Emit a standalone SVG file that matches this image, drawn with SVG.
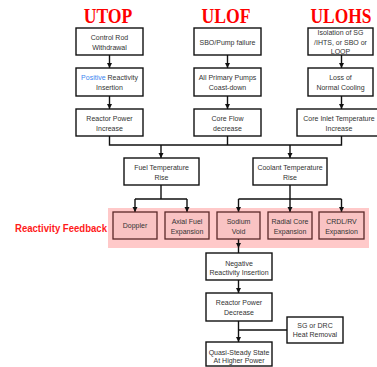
<svg xmlns="http://www.w3.org/2000/svg" width="377" height="367" viewBox="0 0 377 367">
<defs>
<style>
.title{font-family:"Liberation Serif","Times New Roman",serif;font-weight:bold;font-size:21px;fill:#ff0000;text-anchor:middle}
.box{fill:#ffffff;stroke:#111111;stroke-width:1.4}
.fb{fill:#f9c3c3;stroke:#5a2828;stroke-width:1.3}
.t{font-family:"Liberation Sans",Arial,sans-serif;font-size:7px;fill:#333333;text-anchor:middle}
.ln{fill:none;stroke:#111111;stroke-width:1.4}
</style>
<marker id="a" markerUnits="userSpaceOnUse" markerWidth="5" markerHeight="6" refX="5" refY="2.5" orient="auto" viewBox="0 0 5 5">
<path d="M0,0 L5,2.5 L0,5 Z" fill="#111111"/>
</marker>
</defs>

<g id="titles">
<text class="title" transform="translate(108 23) scale(0.84 1)">UTOP</text>
<text class="title" transform="translate(226 23) scale(0.84 1)">ULOF</text>
<text class="title" transform="translate(341 23) scale(0.83 1)">ULOHS</text>
</g>

<rect id="feedback-band" x="108" y="208" width="261" height="40" fill="#ffc9c9"/>
<text id="feedback-label" x="15" y="232" font-family="Liberation Sans,Arial,sans-serif" font-weight="bold" font-size="10.5" fill="#ff1a1a" textLength="92" lengthAdjust="spacingAndGlyphs">Reactivity Feedback</text>

<g id="connectors">
<line class="ln" x1="109.5" y1="55" x2="109.5" y2="68" marker-end="url(#a)"/>
<line class="ln" x1="109.5" y1="96" x2="109.5" y2="109" marker-end="url(#a)"/>
<line class="ln" x1="227.5" y1="55" x2="227.5" y2="68" marker-end="url(#a)"/>
<line class="ln" x1="227.5" y1="96" x2="227.5" y2="109" marker-end="url(#a)"/>
<line class="ln" x1="341.5" y1="55" x2="341.5" y2="68" marker-end="url(#a)"/>
<line class="ln" x1="341.5" y1="96" x2="341.5" y2="109" marker-end="url(#a)"/>
<path class="ln" d="M109.5,136 V145 H341.5 V136 M227.5,136 V145"/>
<line class="ln" x1="161" y1="145" x2="161" y2="158" marker-end="url(#a)"/>
<line class="ln" x1="290" y1="145" x2="290" y2="158" marker-end="url(#a)"/>
<path class="ln" d="M161,185 V199 M135,199 H187 M290,185 V199 M238.5,199 H341.5"/>
<line class="ln" x1="135" y1="199" x2="135" y2="212" marker-end="url(#a)"/>
<line class="ln" x1="187" y1="199" x2="187" y2="212" marker-end="url(#a)"/>
<line class="ln" x1="238.5" y1="199" x2="238.5" y2="212" marker-end="url(#a)"/>
<line class="ln" x1="290" y1="199" x2="290" y2="212" marker-end="url(#a)"/>
<line class="ln" x1="341.5" y1="199" x2="341.5" y2="212" marker-end="url(#a)"/>
<line class="ln" x1="238.5" y1="239" x2="238.5" y2="248" marker-end="url(#a)"/>
<line class="ln" x1="238.5" y1="248" x2="238.5" y2="253"/>
<line class="ln" x1="238.5" y1="280" x2="238.5" y2="293" marker-end="url(#a)"/>
<line class="ln" x1="238.5" y1="321" x2="238.5" y2="342" marker-end="url(#a)"/>
<line class="ln" x1="238.5" y1="330" x2="287" y2="330"/>
</g>

<g id="n-utop1"><rect class="box" x="76" y="28" width="67" height="27"/><text class="t" x="109.5" y="39.5">Control Rod</text><text class="t" x="109.5" y="49.5">Withdrawal</text></g>
<g id="n-utop2"><rect class="box" x="76" y="68" width="67" height="28"/><text class="t" x="109.5" y="80"><tspan fill="#3d86f0">Positive</tspan> Reactivity</text><text class="t" x="109.5" y="89.5">Insertion</text></g>
<g id="n-utop3"><rect class="box" x="76" y="109" width="67" height="27"/><text class="t" x="109.5" y="120.5">Reactor Power</text><text class="t" x="109.5" y="130.5">Increase</text></g>

<g id="n-ulof1"><rect class="box" x="194" y="28" width="67" height="27"/><text class="t" x="227.5" y="44.5">SBO/Pump failure</text></g>
<g id="n-ulof2"><rect class="box" x="194" y="68" width="67" height="28"/><text class="t" x="227.5" y="80">All Primary Pumps</text><text class="t" x="227.5" y="89.5">Coast-down</text></g>
<g id="n-ulof3"><rect class="box" x="194" y="109" width="67" height="27"/><text class="t" x="227.5" y="120.5">Core Flow</text><text class="t" x="227.5" y="130.5">decrease</text></g>

<g id="n-ulohs1"><rect class="box" x="308" y="28" width="65" height="27"/><text class="t" x="340.5" y="35">Isolation of SG</text><text class="t" x="340.5" y="44.5">/IHTS, or SBO or</text><text class="t" x="340.5" y="54">LOOP</text></g>
<g id="n-ulohs2"><rect class="box" x="308" y="68" width="65" height="28"/><text class="t" x="340.5" y="80">Loss of</text><text class="t" x="340.5" y="89.5">Normal Cooling</text></g>
<g id="n-ulohs3"><rect class="box" x="297" y="109" width="82" height="27"/><text class="t" x="339" y="120.5">Core Inlet Temperature</text><text class="t" x="339" y="130.5">Increase</text></g>

<g id="n-fuel"><rect class="box" x="124" y="158" width="75" height="27"/><text class="t" x="161.5" y="169.5">Fuel Temperature</text><text class="t" x="161.5" y="179.5">Rise</text></g>
<g id="n-coolant"><rect class="box" x="253" y="158" width="74" height="27"/><text class="t" x="290" y="169.5">Coolant Temperature</text><text class="t" x="290" y="179.5">Rise</text></g>

<g id="n-doppler"><rect class="fb" x="113" y="212" width="44" height="27"/><text class="t" x="135" y="228">Doppler</text></g>
<g id="n-axial"><rect class="fb" x="165" y="212" width="44" height="27"/><text class="t" x="187" y="223.5">Axial Fuel</text><text class="t" x="187" y="233.5">Expansion</text></g>
<g id="n-sodium"><rect class="fb" x="217" y="212" width="43" height="27"/><text class="t" x="238.5" y="223.5">Sodium</text><text class="t" x="238.5" y="233.5">Void</text></g>
<g id="n-radial"><rect class="fb" x="268" y="212" width="44" height="27"/><text class="t" x="290" y="223.5">Radial Core</text><text class="t" x="290" y="233.5">Expansion</text></g>
<g id="n-crdl"><rect class="fb" x="319" y="212" width="45" height="27"/><text class="t" x="341.5" y="223.5">CRDL/RV</text><text class="t" x="341.5" y="233.5">Expansion</text></g>

<g id="n-negative"><rect class="box" x="206" y="253" width="66" height="27"/><text class="t" x="239" y="265.5" fill="#ff3b3b">Negative</text><text class="t" x="239" y="274.5">Reactivity Insertion</text></g>
<g id="n-decrease"><rect class="box" x="206" y="293" width="66" height="28"/><text class="t" x="239" y="304.5">Reactor Power</text><text class="t" x="239" y="314.5">Decrease</text></g>
<g id="n-sg"><rect class="box" x="287" y="317" width="56" height="26"/><text class="t" x="315" y="327.5">SG or DRC</text><text class="t" x="315" y="337">Heat Removal</text></g>
<g id="n-quasi"><rect class="box" x="206" y="342" width="66" height="24"/><text class="t" x="239" y="354.5">Quasi-Steady State</text><text class="t" x="239" y="363">At Higher Power</text></g>
</svg>
